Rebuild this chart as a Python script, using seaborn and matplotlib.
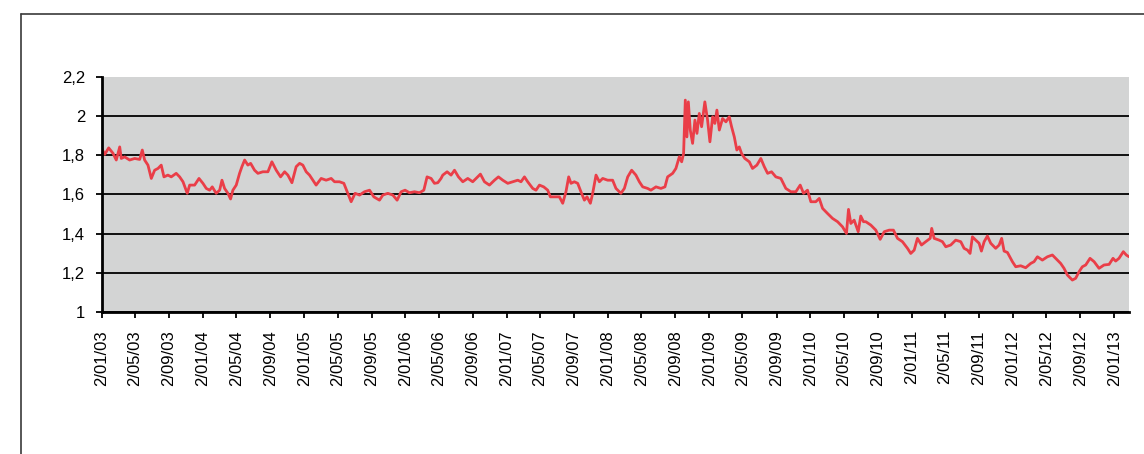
import numpy as np
import pandas as pd
import matplotlib
matplotlib.use("Agg")
import matplotlib.pyplot as plt
import matplotlib.dates as mdates
from matplotlib.lines import Line2D
import seaborn as sns

# ---- data ----
start_date = "2003-01-02"
# time offset in years from start_date
t_years = [
    0.000, 0.030, 0.069, 0.112, 0.144, 0.178, 0.193, 0.227, 0.276, 0.326,
    0.375, 0.401, 0.424, 0.457, 0.490, 0.523, 0.556, 0.588, 0.615, 0.654,
    0.687, 0.736, 0.770, 0.803, 0.845, 0.869, 0.918, 0.961, 1.000, 1.033,
    1.066, 1.092, 1.131, 1.165, 1.188, 1.214, 1.247, 1.273, 1.296, 1.329,
    1.362, 1.385, 1.412, 1.444, 1.471, 1.510, 1.543, 1.592, 1.642,
    1.681, 1.724, 1.767, 1.807, 1.839, 1.879, 1.921, 1.955, 1.987, 2.020,
    2.053, 2.086, 2.118, 2.168, 2.217, 2.267, 2.300, 2.349, 2.392, 2.431,
    2.464, 2.503, 2.547, 2.596, 2.646, 2.688, 2.744, 2.777, 2.826, 2.876,
    2.918, 2.958, 2.997, 3.040, 3.090, 3.139, 3.182, 3.214, 3.254, 3.287,
    3.320, 3.352,
    3.369, 3.412, 3.451, 3.485, 3.524, 3.567, 3.616, 3.665, 3.698, 3.741,
    3.781, 3.830, 3.880, 3.919, 3.962, 4.011, 4.060, 4.110, 4.142, 4.176,
    4.208, 4.258, 4.290, 4.324, 4.366, 4.406, 4.432, 4.472, 4.521, 4.554,
    4.586, 4.613, 4.636, 4.669, 4.702, 4.734, 4.768, 4.794, 4.827, 4.850,
    4.883, 4.916, 4.949, 4.998, 5.031,
    5.047, 5.080, 5.129, 5.163, 5.196, 5.235, 5.277, 5.311, 5.344, 5.393,
    5.425, 5.475, 5.524, 5.564, 5.590, 5.640, 5.672, 5.706, 5.729, 5.748,
    5.765, 5.781, 5.795, 5.814, 5.837, 5.860, 5.880, 5.903, 5.926, 5.958,
    5.985, 6.008, 6.035, 6.057, 6.077, 6.101, 6.133, 6.166, 6.199, 6.222,
    6.249, 6.274, 6.298, 6.321, 6.353, 6.397, 6.429, 6.472, 6.511, 6.545,
    6.578, 6.617, 6.659, 6.709,
    6.758, 6.808, 6.857, 6.900, 6.933, 6.972, 7.005, 7.054, 7.088, 7.121,
    7.170, 7.219, 7.269, 7.318, 7.357, 7.377, 7.400, 7.433, 7.473, 7.498,
    7.525, 7.548, 7.597, 7.647, 7.690, 7.730, 7.779, 7.821, 7.861, 7.910,
    7.960, 7.992, 8.026, 8.058, 8.098, 8.140, 8.184, 8.199, 8.223, 8.272,
    8.305, 8.338, 8.387,
    8.436, 8.486, 8.519, 8.552, 8.578, 8.601, 8.634, 8.667, 8.690, 8.717,
    8.749, 8.782, 8.831, 8.865, 8.890, 8.914, 8.947, 8.996, 9.029, 9.078,
    9.127, 9.177, 9.210, 9.243, 9.292, 9.342, 9.391, 9.423, 9.473, 9.506,
    9.539, 9.588, 9.621, 9.655, 9.687, 9.720, 9.763, 9.803, 9.852, 9.901,
    9.951, 9.990, 10.016, 10.049, 10.092, 10.121, 10.148,
]
rate = [
    1.835, 1.805, 1.838, 1.810, 1.776, 1.843, 1.784, 1.792, 1.776, 1.784,
    1.779, 1.827, 1.776, 1.750, 1.682, 1.724, 1.733, 1.750, 1.690, 1.699,
    1.690, 1.708, 1.690, 1.665, 1.606, 1.648, 1.648, 1.682, 1.657, 1.631,
    1.622, 1.639, 1.606, 1.622, 1.673, 1.631, 1.606, 1.577, 1.622, 1.648,
    1.708, 1.742, 1.776, 1.750, 1.759, 1.724, 1.708, 1.716, 1.716,
    1.767, 1.724, 1.690, 1.716, 1.699, 1.660, 1.742, 1.759, 1.750, 1.716,
    1.699, 1.673, 1.648, 1.682, 1.673, 1.682, 1.665, 1.665, 1.657, 1.606,
    1.563, 1.606, 1.597, 1.614, 1.622, 1.588, 1.571, 1.597, 1.606, 1.597,
    1.571, 1.614, 1.622, 1.609, 1.614, 1.609, 1.622, 1.690, 1.682, 1.657,
    1.660, 1.682,
    1.699, 1.716, 1.699, 1.724, 1.690, 1.665, 1.682, 1.665, 1.682, 1.704,
    1.665, 1.648, 1.673, 1.690, 1.673, 1.657, 1.665, 1.673, 1.665, 1.690,
    1.665, 1.631, 1.622, 1.648, 1.639, 1.622, 1.588, 1.588, 1.588, 1.555,
    1.614, 1.690, 1.657, 1.665, 1.657, 1.614, 1.571, 1.588, 1.555, 1.606,
    1.699, 1.665, 1.682, 1.673, 1.673,
    1.673, 1.631, 1.606, 1.631, 1.690, 1.724, 1.699, 1.665, 1.639, 1.631,
    1.622, 1.639, 1.631, 1.639, 1.690, 1.708, 1.733, 1.793, 1.767, 1.809,
    2.082, 1.894, 2.073, 1.929, 1.861, 1.980, 1.912, 2.014, 1.946, 2.073,
    1.980, 1.869, 1.997, 1.963, 2.031, 1.929, 1.988, 1.971, 1.997, 1.946,
    1.894, 1.827, 1.843, 1.809, 1.784, 1.767, 1.733, 1.750, 1.784, 1.742,
    1.708, 1.716, 1.690, 1.682,
    1.631, 1.614, 1.614, 1.648, 1.606, 1.622, 1.563, 1.563, 1.580, 1.529,
    1.503, 1.478, 1.461, 1.435, 1.401, 1.524, 1.452, 1.469, 1.410, 1.490,
    1.461, 1.461, 1.444, 1.418, 1.371, 1.410, 1.418, 1.418, 1.376, 1.359,
    1.325, 1.299, 1.316, 1.376, 1.342, 1.359, 1.376, 1.427, 1.376, 1.367,
    1.359, 1.333, 1.342,
    1.367, 1.359, 1.325, 1.316, 1.299, 1.384, 1.367, 1.351, 1.311, 1.359,
    1.388, 1.351, 1.325, 1.342, 1.376, 1.311, 1.304, 1.257, 1.231, 1.236,
    1.226, 1.248, 1.257, 1.282, 1.265, 1.282, 1.291, 1.274, 1.248, 1.223,
    1.189, 1.163, 1.172, 1.206, 1.231, 1.240, 1.274, 1.257, 1.223, 1.240,
    1.243, 1.274, 1.260, 1.274, 1.308, 1.291, 1.282,
]
y_ticks = [1.0, 1.2, 1.4, 1.6, 1.8, 2.0, 2.2]
y_tick_labels = ["1", "1,2", "1,4", "1,6", "1,8", "2", "2,2"]
tick_years = list(range(2003, 2014))
tick_months = [1, 5, 9]

# ---- build ----
start = pd.Timestamp(start_date)
dates = start + pd.to_timedelta(np.array(t_years) * 365.25, unit="D")
df = pd.DataFrame({"date": dates, "rate": rate})

sns.set_style("white")
plt.rcParams["font.family"] = ["Liberation Sans", "DejaVu Sans"]

fig = plt.figure(figsize=(11.44, 4.54), dpi=100)
ax = fig.add_axes([0.0889, 0.3128, 0.8980, 0.5176])

sns.lineplot(data=df, x="date", y="rate", ax=ax, color="#EA3E48",
             linewidth=2.0, estimator=None, sort=False)

ax.set_facecolor("#D3D4D4")
ax.set_xlim(df["date"].iloc[0], df["date"].iloc[-1])
ax.set_ylim(y_ticks[0], y_ticks[-1])

ax.set_yticks(y_ticks)
ax.set_yticklabels(y_tick_labels, fontsize=12)

ticks = [pd.Timestamp(year=y, month=m, day=2) for y in tick_years for m in tick_months]
ticks = [d for d in ticks if d <= df["date"].iloc[-1]]
ax.set_xticks(mdates.date2num(ticks))
ax.set_xticklabels([f"{d.day}/{d.month:02d}/{d.strftime('%y')}" for d in ticks],
                   rotation=90, fontsize=12, va="top", ha="center")

ax.set_xlabel("")
ax.set_ylabel("")

ax.yaxis.grid(True, color="black", linewidth=1.3)
ax.xaxis.grid(False)
ax.set_axisbelow(True)
ygl = ax.get_ygridlines()
ygl[-1].set_visible(False)

for s in ["top", "right"]:
    ax.spines[s].set_visible(False)
for s in ["left", "bottom"]:
    ax.spines[s].set_color("black")
    ax.spines[s].set_linewidth(2.0)

ax.tick_params(axis="both", which="major", direction="out", length=4,
               width=1.3, color="black", labelcolor="black")
ax.tick_params(axis="y", pad=8)
ax.tick_params(axis="x", pad=9)
ax.xaxis.set_ticks_position("bottom")
ax.yaxis.set_ticks_position("left")

# outer frame lines (left and top)
fx = 21 / 1144
fy = 1 - 14 / 454
fig.add_artist(Line2D([fx, fx], [0, fy], transform=fig.transFigure,
                      color="#3a3a3a", linewidth=1.2))
fig.add_artist(Line2D([fx, 1], [fy, fy], transform=fig.transFigure,
                      color="#3a3a3a", linewidth=1.2))

fig.savefig("out.png", dpi=100)
